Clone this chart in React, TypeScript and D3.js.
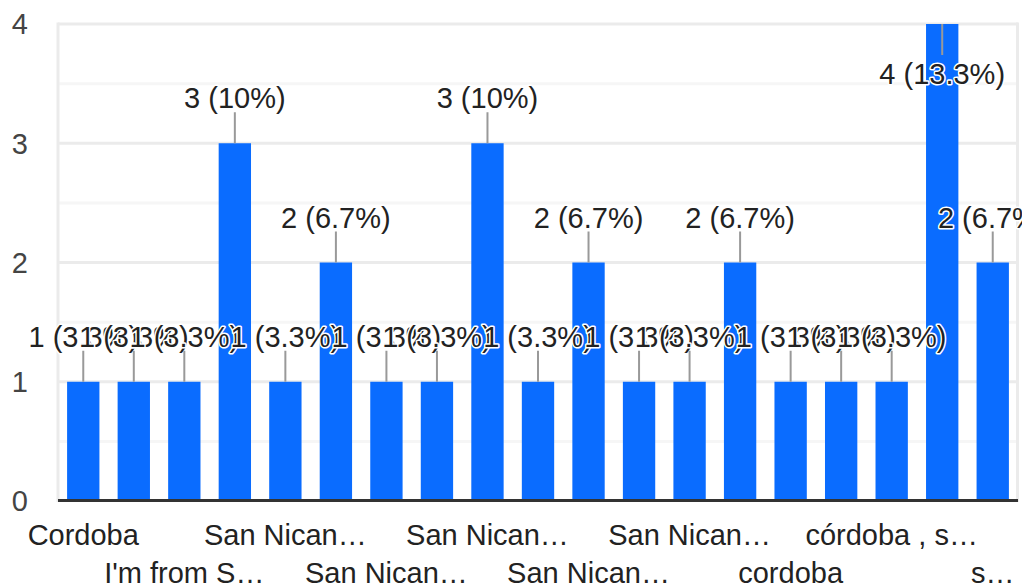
import React from "react";
import * as d3 from "d3";

const categories = [
  "Cordoba", "Córdoba", "I'm from S…", "San Nican…", "San Nican…", "San Nican…",
  "San Nican…", "San Nican…", "San Nican…", "San Nican…", "San Nican…", "San Nican…",
  "San Nican…", "San Nican…", "cordoba", "Cordoba ", "córdoba , s…", "San Nican…", "s…",
];
const values = [1, 1, 1, 3, 1, 2, 1, 1, 3, 1, 2, 1, 1, 2, 1, 1, 1, 4, 2];
const yTicks = [0, 1, 2, 3, 4];
const minorTicks = [0.5, 1.5, 2.5, 3.5];

const W = 1022;
const H = 588;
const FONT = "'Liberation Sans', Arial, sans-serif";

export default function App() {
  const total = d3.sum(values);
  const x = d3
    .scaleBand<number>()
    .domain(d3.range(values.length))
    .range([58, 1018])
    .paddingInner(0.36)
    .paddingOuter(0.18);
  const y = d3.scaleLinear().domain([0, 4]).range([501, 24]);
  const fmtPct = (v: number) => {
    const p = (v / total) * 100;
    return `${v} (${Math.round(p * 10) / 10}%)`;
  };

  return (
    <div style={{ position: "absolute", left: 0, top: 0 }}>
      <svg width={W} height={H} style={{ display: "block" }} fontFamily={FONT}>
        <rect width={W} height={H} fill="#fff" />
        {minorTicks.map((t) => (
          <line key={"m" + t} x1={58} x2={1018} y1={y(t)} y2={y(t)} stroke="#f6f6f6" strokeWidth={3} />
        ))}
        {yTicks.filter((t) => t > 0).map((t) => (
          <line key={"g" + t} x1={58} x2={1018} y1={y(t)} y2={y(t)} stroke="#ebebeb" strokeWidth={3} />
        ))}
        <line x1={58} x2={58} y1={22.5} y2={502} stroke="#ebebeb" strokeWidth={3} />
        <line x1={1017.5} x2={1017.5} y1={22.5} y2={502} stroke="#ebebeb" strokeWidth={3} />
        {yTicks.map((t) => (
          <text key={"yl" + t} x={28} y={y(t)} dy="0.36em" textAnchor="end" fontSize={29} fill="#444">
            {t}
          </text>
        ))}
        {values.map((v, i) => (
          <rect key={"b" + i} x={x(i)} y={y(v)} width={x.bandwidth()} height={y(0) - y(v)} fill="#0a6cff" />
        ))}
        <line x1={58} x2={1018} y1={500.5} y2={500.5} stroke="#333" strokeWidth={3} />
        {values.map((v, i) => {
          const cx = (x(i) as number) + x.bandwidth() / 2;
          const top = y(v);
          const inside = top - 66 < 24;
          const stemEnd = inside ? top + 31 : top - 31;
          const baseline = inside ? top + 60 : top - 35;
          return (
            <g key={"a" + i}>
              <line x1={cx} x2={cx} y1={top} y2={stemEnd} stroke="#999" strokeWidth={2} />
              <text
                x={cx}
                y={baseline}
                textAnchor="middle"
                fontSize={29}
                fill="#222"
                stroke="#fff"
                strokeWidth={3}
                strokeLinejoin="round"
                style={{ paintOrder: "stroke" }}
              >
                {fmtPct(v)}
              </text>
            </g>
          );
        })}
        {categories.map((c, i) =>
          i % 2 === 0 ? (
            <text
              key={"c" + i}
              x={(x(i) as number) + x.bandwidth() / 2}
              y={(i / 2) % 2 === 0 ? 545 : 583}
              textAnchor="middle"
              fontSize={29}
              fill="#222"
            >
              {c}
            </text>
          ) : null
        )}
      </svg>
    </div>
  );
}
